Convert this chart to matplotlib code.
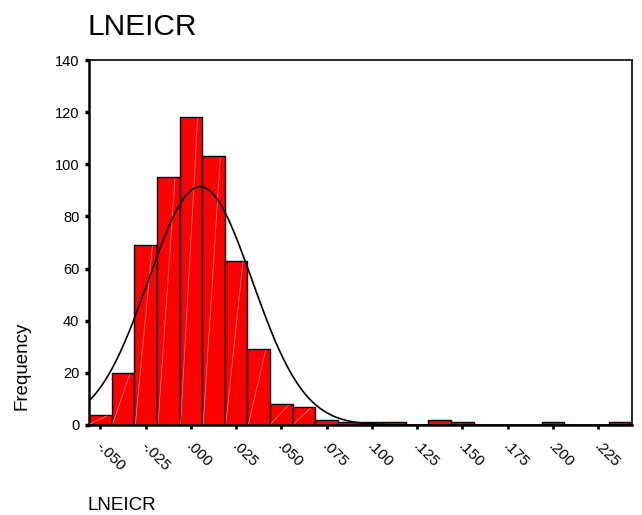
import numpy as np
import matplotlib
matplotlib.use('Agg')
import matplotlib.pyplot as plt
import matplotlib.transforms as mtransforms

plt.rcParams['font.family'] = ['Liberation Sans', 'DejaVu Sans']

# histogram of LNEICR (bin width .0125, bins centred on multiples of .0125)
bin_width = 0.0125
bin_centers = [-0.05, -0.0375, -0.025, -0.0125, 0.0, 0.0125, 0.025, 0.0375,
               0.05, 0.0625, 0.075, 0.0875, 0.1, 0.1125, 0.1375, 0.15,
               0.2, 0.2375]
counts = [4, 20, 69, 95, 118, 103, 63, 29, 8, 7, 2, 1, 1, 1, 2, 1, 1, 1]

# normal curve parameters
curve_mean = 0.0052
curve_sd = 0.0287
n_total = sum(counts)

x_ticks = [-0.05, -0.025, 0.0, 0.025, 0.05, 0.075, 0.1, 0.125, 0.15, 0.175, 0.2, 0.225]
x_ticklabels = ['-.050', '-.025', '.000', '.025', '.050', '.075', '.100',
                '.125', '.150', '.175', '.200', '.225']
y_ticks = [0, 20, 40, 60, 80, 100, 120, 140]

fig = plt.figure(figsize=(6.42, 5.15), dpi=100)
ax = fig.add_axes([89 / 642, 1 - 425 / 515, (632 - 89) / 642, (425 - 60) / 515])

ax.bar(bin_centers, counts, width=bin_width, color='#FF0000',
       edgecolor='black', linewidth=1.0, zorder=2)

# faint light streaks inside the bars
for c, h in zip(bin_centers, counts):
    if h >= 3:
        ax.plot([c - bin_width * 0.45, c + bin_width * 0.3], [0.5, h - 0.5],
                color='#FF9090', linewidth=0.5, zorder=3)

xs = np.linspace(-0.05625, 0.24375, 400)
ys = n_total * bin_width / (curve_sd * np.sqrt(2 * np.pi)) * np.exp(-0.5 * ((xs - curve_mean) / curve_sd) ** 2)
ax.plot(xs, ys, color='black', linewidth=1.2, zorder=4)

ax.set_xlim(-0.05625, 0.24375)
ax.set_ylim(0, 140)

ax.set_yticks(y_ticks)
ax.set_yticklabels([str(v) for v in y_ticks], fontsize=10.5)
ax.set_xticks(x_ticks)
ax.set_xticklabels(x_ticklabels, fontsize=11, rotation=-45, ha='left', va='top',
                   rotation_mode='anchor')
ax.tick_params(axis='y', direction='out', length=3, width=2.5, pad=4)
ax.tick_params(axis='x', direction='out', length=3, width=2, pad=7)
shift = mtransforms.ScaledTranslation(3 / 100, 0, fig.dpi_scale_trans)
for lbl in ax.get_xticklabels():
    lbl.set_transform(lbl.get_transform() + shift)

for side in ['top', 'right']:
    ax.spines[side].set_linewidth(1.2)
for side in ['left', 'bottom']:
    ax.spines[side].set_linewidth(1.8)

fig.text(88 / 642, 1 - 35 / 515, 'LNEICR', fontsize=21.5, ha='left', va='baseline')
fig.text(88 / 642, 1 - 510 / 515, 'LNEICR', fontsize=13.5, ha='left', va='baseline')
fig.text(22 / 642, 1 - 366 / 515, 'Frequency', fontsize=13.5, rotation=90,
         ha='center', va='center')

plt.savefig('out.png', dpi=100)
